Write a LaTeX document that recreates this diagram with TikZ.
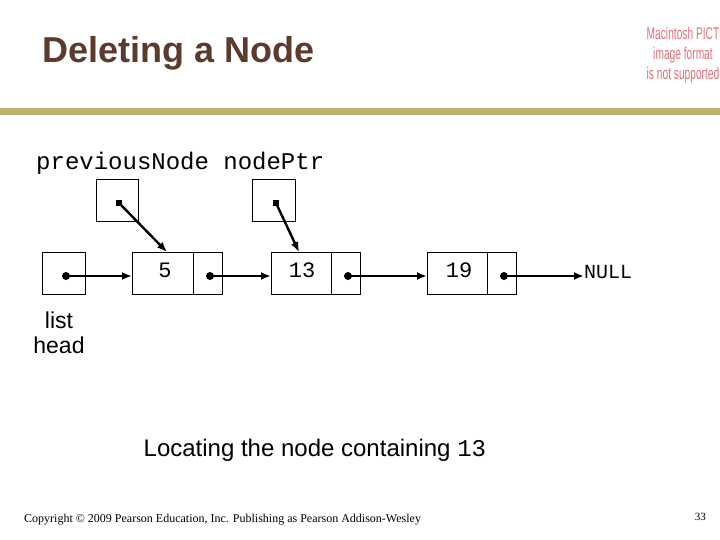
\documentclass[tikz,border=0pt]{standalone}
\usepackage{fontspec}
\setmainfont{Liberation Sans}
\newfontfamily\monofnt{Liberation Mono}
\newfontfamily\timesfnt{Liberation Serif}
\newfontfamily\narrowfnt[FakeStretch=0.6]{Liberation Sans}
\usetikzlibrary{arrows.meta,calc}
\definecolor{titlebrown}{HTML}{5C3A2E}
\definecolor{rulegold}{HTML}{BFB074}
\definecolor{pictred}{HTML}{E0707A}
\begin{document}
\begin{tikzpicture}[x=1pt,y=-1pt,
  box/.style={draw=black, line width=1pt, minimum width=#1, minimum height=42pt, inner sep=0pt, outer sep=0pt},
  ptrline/.style={line width=2.4pt, -{Latex[length=10pt,width=8pt]}},
  dotc/.style={circle, fill=black, minimum size=8pt, inner sep=0pt},
  dotsq/.style={rectangle, fill=black, minimum size=6.5pt, inner sep=0pt},
  monotxt/.style={inner sep=0pt, font=\monofnt\fontsize{#1}{#1}\selectfont},
]
\fill[white] (0,0) rectangle (720,540);
\useasboundingbox (0,0) rectangle (720,540);

% title and rule
\node[anchor=base west, inner sep=0pt, text=titlebrown, font=\fontsize{36}{42}\selectfont\bfseries] (title) at (42.5,63) {Deleting a Node};
\fill[rulegold] (0,108) rectangle (720,115);
\node[anchor=north, align=center, inner sep=0pt, text=pictred, font=\narrowfnt\fontsize{17}{20}\selectfont] (pict) at (683,27) {Macintosh PICT\\image format\\is not supported};

% label
\node[anchor=base west, monotxt=24] (lbl) at (36,170) {previousNode nodePtr};

% boxes
\node[box=42pt] (prev) at (117,201) {};
\node[box=43pt] (nptr) at (273.5,201) {};
\node[box=43pt] (head) at (63.5,273) {};
\node[box=61pt] (n1d) at (162.5,273) {};
\node[box=29pt, anchor=west] (n1p) at (n1d.east) {};
\node[box=60pt] (n2d) at (301,273) {};
\node[box=29pt, anchor=west] (n2p) at (n2d.east) {};
\node[box=60pt] (n3d) at (457,273) {};
\node[box=29pt, anchor=west] (n3p) at (n3d.east) {};

% values
\node[monotxt=22] (v1) at (165,270) {5};
\node[monotxt=22] (v2) at (302,270) {13};
\node[monotxt=22] (v3) at (459,270) {19};
\node[anchor=west, monotxt=20] (nulltxt) at (584,272.5) {NULL};

% dots
\node[dotc] (hd) at (66,276) {};
\node[dotc] (d1) at (210,276) {};
\node[dotc] (d2) at (348,276) {};
\node[dotc] (d3) at (504,276) {};
\node[dotsq] (pd) at (119,203) {};
\node[dotsq] (nd) at (276,203) {};

% arrows
\draw[ptrline] (hd.center) -- (hd.center -| n1d.west);
\draw[ptrline] (d1.center) -- (d1.center -| n2d.west);
\draw[ptrline] (d2.center) -- (d2.center -| n3d.west);
\draw[ptrline] (d3.center) -- (d3.center -| nulltxt.west);
\draw[ptrline] (pd.center) -- ($(n1d.north)+(4.5,0)$);
\draw[ptrline] (nd.center) -- ($(n2d.north)+(-2,0)$);

% other texts
\node[align=center, inner sep=0pt, font=\fontsize{23}{25}\selectfont] (lh) at (59,332.5) {list\\head};
\node[anchor=base west, inner sep=0pt, font=\fontsize{24}{28}\selectfont] (cap) at (143.5,456) {Locating the node containing {\monofnt 13}};
\node[anchor=base west, inner sep=0pt, font=\timesfnt\fontsize{12}{15}\selectfont] (copy) at (24,522) {Copyright © 2009 Pearson Education, Inc. Publishing as Pearson Addison-Wesley};
\node[anchor=base east, inner sep=0pt, font=\timesfnt\fontsize{11}{13}\selectfont] (pg) at (706,520) {33};
\end{tikzpicture}
\end{document}
